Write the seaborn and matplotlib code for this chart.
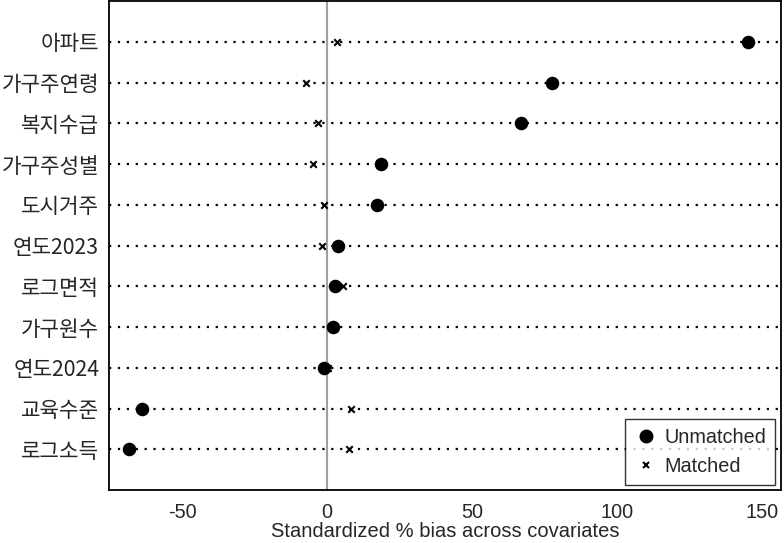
import matplotlib
matplotlib.use("Agg")
import matplotlib.pyplot as plt
import seaborn as sns
import pandas as pd
from matplotlib.lines import Line2D

covariates = ["아파트", "가구주연령", "복지수급", "가구주성별", "도시거주", "연도2023",
              "로그면적", "가구원수", "연도2024", "교육수준", "로그소득"]
unmatched = [145.2, 77.6, 66.9, 18.6, 17.2, 3.8, 2.8, 2.1, -1.0, -63.8, -68.3]
matched = [3.4, -7.2, -3.1, -4.8, -1.0, -1.7, 5.5, 1.5, 0.3, 8.3, 7.6]
xticks = [-50, 0, 50, 100, 150]

sns.set_style("white")
plt.rcParams['font.family'] = ['Noto Sans CJK KR', 'DejaVu Sans']

df_u = pd.DataFrame({"cov": covariates, "bias": unmatched})
df_m = pd.DataFrame({"cov": covariates, "bias": matched})

fig = plt.figure(figsize=(7.84, 5.43), dpi=100)
ax = fig.add_axes([0.139, 0.0976, 0.857, 0.9004])

for i in range(len(covariates)):
    ax.axhline(i, color="black", linestyle=(0, (1, 3)), linewidth=1.6, zorder=1)
ax.axvline(0, color="#a0a0a0", linewidth=1.5, zorder=1)

sns.scatterplot(data=df_u, x="bias", y="cov", ax=ax, color="black", marker="o",
                s=95, edgecolor="black", linewidth=0, zorder=3, legend=False)
sns.scatterplot(data=df_m, x="bias", y="cov", ax=ax, color="black", marker="x",
                s=22, linewidth=1.5, zorder=4, legend=False)

ax.set_xlim(-75.2, 156.6)
ax.set_ylim(11, -1)
ax.set_xticks(xticks)
ax.set_xticklabels([str(t) for t in xticks], family=['Liberation Sans'], fontsize=14.3)
ax.tick_params(axis='x', direction='out', length=6, width=1.2, color='black', pad=3)
ax.tick_params(axis='y', direction='out', length=0, pad=7, labelsize=15.3)
ax.set_ylabel("")
ax.set_xlabel("Standardized % bias across covariates", family=['Liberation Sans'],
              fontsize=14.5, labelpad=0)
for sp in ax.spines.values():
    sp.set_color("black")
    sp.set_linewidth(1.3)

handles = [Line2D([], [], marker='o', color='black', linestyle='none', markersize=9),
           Line2D([], [], marker='x', color='black', linestyle='none', markersize=5,
                  markeredgewidth=1.5)]
leg = ax.legend(handles, ["Unmatched", "Matched"], loc="lower right",
                prop={'family': 'Liberation Sans', 'size': 14.3},
                frameon=True, fancybox=False, edgecolor="black",
                bbox_to_anchor=(0.997, 0.003), handletextpad=0.3, borderpad=0.45,
                labelspacing=0.5, handlelength=1.2, borderaxespad=0.2)
leg.get_frame().set_linewidth(1.0)

fig.savefig("out.png", dpi=100)
